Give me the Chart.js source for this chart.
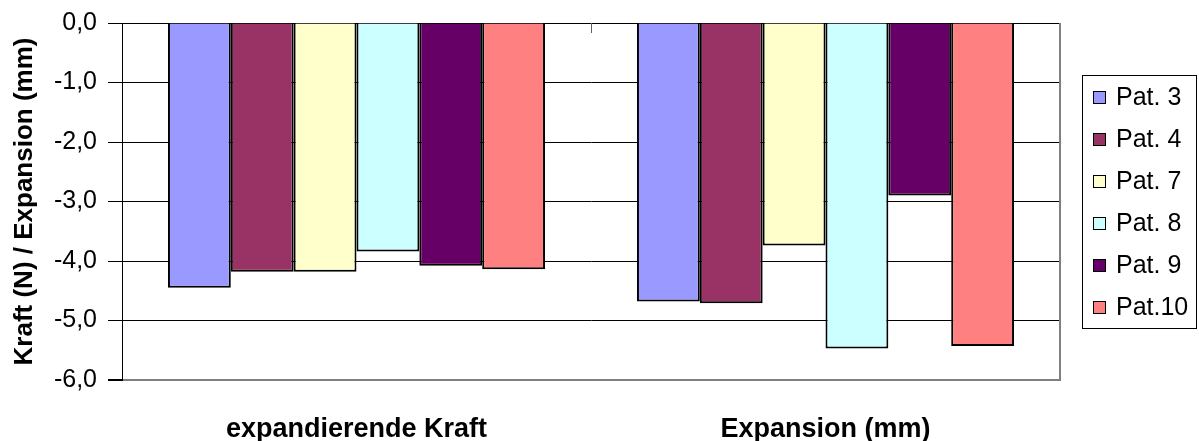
<!DOCTYPE html>
<html>
<head>
<meta charset="utf-8">
<script src="https://cdn.jsdelivr.net/npm/chart.js@4"></script>
<style>
  html, body { margin: 0; padding: 0; background: #fff; }
  #wrap { width: 1199px; height: 441px; }
</style>
</head>
<body>
<div id="wrap"><canvas id="myChart" width="1199" height="441"></canvas></div>
<script>
const categories = ["expandierende Kraft", "Expansion (mm)"];
const seriesNames = ["Pat. 3", "Pat. 4", "Pat. 7", "Pat. 8", "Pat. 9", "Pat.10"];
const pat3 = [-4.45, -4.68];
const pat4 = [-4.18, -4.71];
const pat7 = [-4.18, -3.74];
const pat8 = [-3.84, -5.47];
const pat9 = [-4.08, -2.90];
const pat10 = [-4.14, -5.43];
const yTicks = [0, -1, -2, -3, -4, -5, -6];

const colores = ["#9999FF", "#993366", "#FFFFCC", "#CCFFFF", "#660066", "#FF8080"];
const valores = [pat3, pat4, pat7, pat8, pat9, pat10];
const FONT = "'Liberation Sans', Arial, sans-serif";

// leyenda a la derecha con marco, estilo Excel
const leyendaPlugin = {
  id: "leyendaExcel",
  afterDraw(chart) {
    const ctx = chart.ctx;
    ctx.save();
    ctx.strokeStyle = "#000";
    ctx.lineWidth = 1;
    ctx.strokeRect(1082.5, 75.5, 114, 253);
    ctx.font = "25px " + FONT;
    ctx.textBaseline = "middle";
    ctx.fillStyle = "#000";
    chart.data.datasets.forEach((ds, i) => {
      const y = 97 + i * 42;
      ctx.fillStyle = ds.backgroundColor;
      ctx.fillRect(1093, y - 6, 13, 13);
      ctx.strokeStyle = "#000";
      ctx.strokeRect(1093.5, y - 5.5, 12, 12);
      ctx.fillStyle = "#000";
      ctx.fillText(ds.label, 1116, y + 1);
    });
    ctx.restore();
  }
};

// borde derecho gris y marcas de categoría sobre la línea del cero
const marcoPlugin = {
  id: "marco",
  afterDatasetsDraw(chart) {
    const { ctx, chartArea, scales } = chart;
    ctx.save();
    ctx.strokeStyle = "#808080";
    ctx.lineWidth = 2;
    ctx.beginPath();
    ctx.moveTo(chartArea.right, chartArea.top);
    ctx.lineTo(chartArea.right, chartArea.bottom + 1);
    ctx.stroke();
    const y0 = scales.y.getPixelForValue(0);
    ctx.strokeStyle = "#606060";
    ctx.lineWidth = 1;
    for (let i = 1; i < categories.length; i++) {
      const x = Math.round((scales.x.getPixelForValue(i - 1) + scales.x.getPixelForValue(i)) / 2) + 0.5;
      ctx.beginPath();
      ctx.moveTo(x, y0);
      ctx.lineTo(x, y0 + 10);
      ctx.stroke();
    }
    ctx.restore();
  }
};

const ctx = document.getElementById("myChart");

new Chart(ctx, {
  type: "bar",
  data: {
    labels: categories,
    datasets: seriesNames.map((nombre, i) => ({
      label: nombre,
      data: valores[i],
      backgroundColor: colores[i],
      borderColor: "#000",
      borderWidth: 2,
      categoryPercentage: 0.804,
      barPercentage: 1.0,
    })),
  },
  options: {
    responsive: false,
    animation: false,
    devicePixelRatio: 1,
    layout: { padding: { top: 23, right: 139, left: 0, bottom: 0 } },
    plugins: {
      legend: { display: false },
      tooltip: { enabled: false },
    },
    scales: {
      x: {
        grid: { display: false, drawTicks: false },
        border: { display: false },
        ticks: {
          padding: 33,
          color: "#000",
          font: { family: FONT, size: 27, weight: "bold" },
          maxRotation: 0,
        },
        afterFit(scale) { scale.height = 61; },
      },
      y: {
        min: -6,
        max: 0,
        afterBuildTicks(scale) { scale.ticks = yTicks.map(v => ({ value: v })); },
        border: { display: true, color: "#000", width: 1 },
        grid: {
          color: (c) => (c.tick && c.tick.value === -6 ? "#808080" : "#000"),
          lineWidth: (c) => (c.tick && c.tick.value === -6 ? 2 : 1),
          drawTicks: true,
          tickLength: 14,
          tickColor: "#000",
        },
        ticks: {
          padding: 11,
          color: "#000",
          font: { family: FONT, size: 25, lineHeight: 0.8 },
          callback: (v) => v.toFixed(1).replace(".", ","),
        },
        title: {
          display: true,
          text: "Kraft (N) / Expansion (mm)",
          color: "#000",
          padding: { top: 9, bottom: 0 },
          font: { family: FONT, size: 26, weight: "bold" },
        },
        afterFit(scale) {
          scale.width = 122;
          scale.paddingTop = 0;
          scale.paddingBottom = 0;
        },
      },
    },
  },
  plugins: [marcoPlugin, leyendaPlugin],
});
</script>
</body>
</html>
